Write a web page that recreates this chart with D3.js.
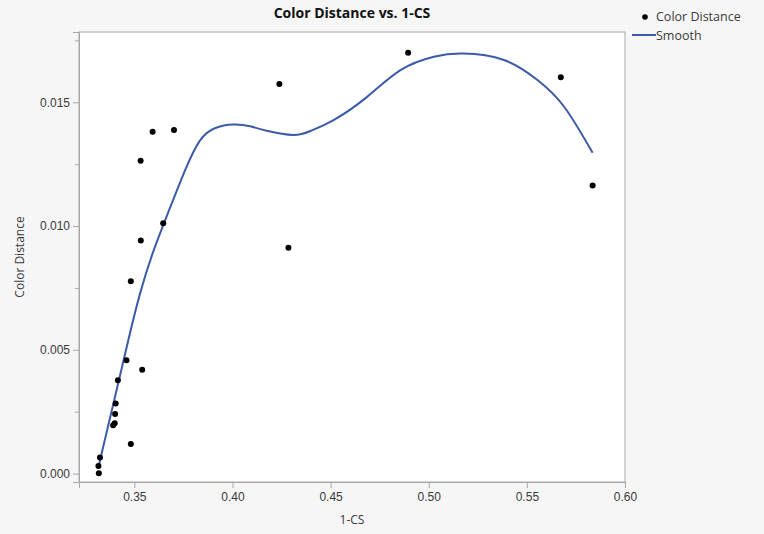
<!DOCTYPE html>
<html>
<head>
<meta charset="utf-8">
<script src="https://cdnjs.cloudflare.com/ajax/libs/d3/7.8.5/d3.min.js"></script>
<style>
  body { margin: 0; background: #f6f6f6; }
  svg { display: block; font-family: "Open Sans", "Noto Sans", sans-serif; }
</style>
</head>
<body>
<div id="chart"></div>
<script>
// 1-CS vs Color Distance
var pointX = [0.3319, 0.3317, 0.3325, 0.3482, 0.3392, 0.3400, 0.3402, 0.3405, 0.3416, 0.3460,
              0.3540, 0.3482, 0.3533, 0.3647, 0.3532, 0.3593, 0.3702, 0.4239, 0.4285, 0.4895,
              0.5673, 0.5835];
var pointY = [0.00001, 0.00031, 0.00065, 0.00120, 0.00195, 0.00203, 0.00241, 0.00283, 0.00377, 0.00458,
              0.00419, 0.00777, 0.00942, 0.01011, 0.01264, 0.01381, 0.01388, 0.01574, 0.00912, 0.01700,
              0.01601, 0.01164];

// smoother
var smoothX = [0.3317, 0.3400, 0.3468, 0.3530, 0.3600, 0.3680, 0.3760, 0.3834, 0.3910, 0.4005,
               0.4090, 0.4175, 0.4311, 0.4400, 0.4515, 0.4686, 0.4856, 0.5026, 0.5175, 0.5383,
               0.5554, 0.5690, 0.5835];
var smoothY = [0.00027, 0.00305, 0.00535, 0.00730, 0.00905, 0.01070, 0.01228, 0.01345, 0.01395, 0.01410,
               0.01403, 0.01385, 0.01368, 0.01385, 0.01428, 0.01522, 0.01630, 0.01684, 0.01697, 0.01671,
               0.01590, 0.01482, 0.01296];

var xTicks = [0.35, 0.40, 0.45, 0.50, 0.55, 0.60];
var yTicks = [0.000, 0.005, 0.010, 0.015];
var yMinor = [0.0025, 0.0075, 0.0125, 0.0175];

var W = 764, H = 534;
var m = { left: 79, right: 625, top: 32, bottom: 482 };

var svg = d3.select("#chart").append("svg")
    .attr("width", W)
    .attr("height", H);

var x = d3.scaleLinear().domain([0.3218, 0.6]).range([m.left, m.right]);
var y = d3.scaleLinear().domain([-0.00034, 0.01784]).range([m.bottom, m.top]);

// plot frame
svg.append("rect")
    .attr("x", m.left).attr("y", m.top)
    .attr("width", m.right - m.left).attr("height", m.bottom - m.top)
    .attr("fill", "#fff")
    .attr("stroke", "#a8a8a8");

svg.append("g")
    .attr("transform", "translate(0," + m.bottom + ")")
    .call(d3.axisBottom(x).tickValues(xTicks).tickFormat(d3.format(".2f")).tickSize(6).tickPadding(4));

svg.append("g")
    .attr("transform", "translate(" + m.left + ",0)")
    .call(d3.axisLeft(y).tickValues(yTicks).tickFormat(d3.format(".3f")).tickSize(6).tickPadding(3));

svg.append("g")
    .attr("transform", "translate(" + m.left + ",0)")
    .call(d3.axisLeft(y).tickValues(yMinor).tickFormat("").tickSize(4))
    .select(".domain").remove();

svg.selectAll(".domain").attr("stroke", "#a8a8a8");
svg.selectAll(".tick line").attr("stroke", "#a8a8a8");
svg.selectAll(".tick text").attr("fill", "#3a3a3a").style("font-size", "12px");

// smoother
var line = d3.line()
    .x(function(d, i) { return x(smoothX[i]); })
    .y(function(d, i) { return y(smoothY[i]); })
    .curve(d3.curveNatural);

svg.append("path")
    .datum(smoothX)
    .attr("d", line)
    .attr("fill", "none")
    .attr("stroke", "#3d5aa9")
    .attr("stroke-width", 2);

svg.selectAll("circle.pt")
    .data(pointX)
    .enter().append("circle")
    .attr("class", "pt")
    .attr("cx", function(d) { return x(d); })
    .attr("cy", function(d, i) { return y(pointY[i]); })
    .attr("r", 3)
    .attr("fill", "#000");

// titles
svg.append("text")
    .attr("x", (m.left + m.right) / 2).attr("y", 18)
    .attr("text-anchor", "middle")
    .style("font-size", "14px").style("font-weight", "bold")
    .attr("fill", "#111")
    .text("Color Distance vs. 1-CS");

svg.append("text")
    .attr("x", (m.left + m.right) / 2).attr("y", 524)
    .attr("text-anchor", "middle")
    .style("font-size", "12px")
    .attr("fill", "#3a3a3a")
    .text("1-CS");

svg.append("text")
    .attr("transform", "translate(24," + ((m.top + m.bottom) / 2) + ") rotate(-90)")
    .attr("text-anchor", "middle")
    .style("font-size", "12px")
    .attr("fill", "#3a3a3a")
    .text("Color Distance");

// legend
var lg = svg.append("g");
lg.append("circle").attr("cx", 645).attr("cy", 17).attr("r", 2.8).attr("fill", "#000");
lg.append("text").attr("x", 656).attr("y", 21).style("font-size", "12.5px").attr("fill", "#3a3a3a").text("Color Distance");
lg.append("line").attr("x1", 632).attr("x2", 656).attr("y1", 35).attr("y2", 35)
    .attr("stroke", "#3d5aa9").attr("stroke-width", 2);
lg.append("text").attr("x", 656).attr("y", 39.5).style("font-size", "12.5px").attr("fill", "#3a3a3a").text("Smooth");
</script>
</body>
</html>
